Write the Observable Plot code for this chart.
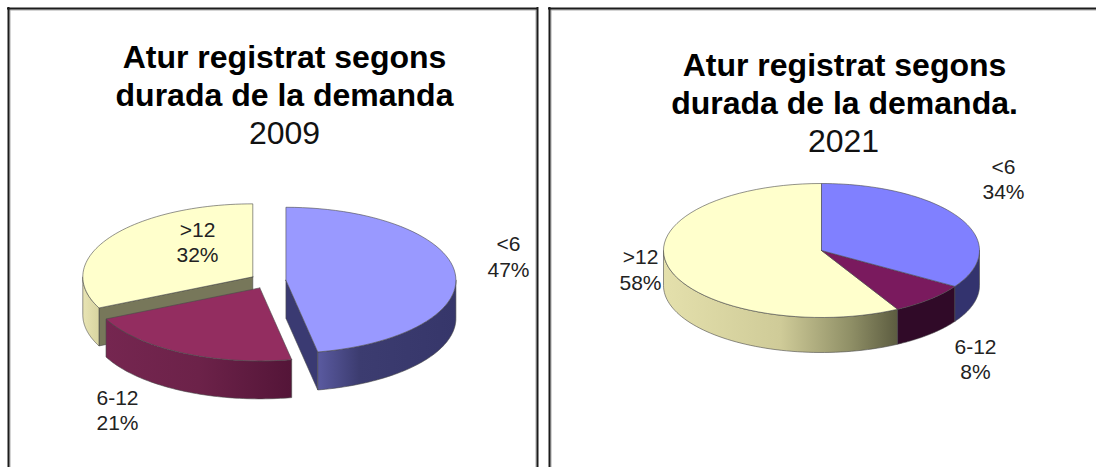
<!DOCTYPE html>
<html><head><meta charset="utf-8">
<script src="https://cdn.jsdelivr.net/npm/d3@7"></script>
<script src="https://cdn.jsdelivr.net/npm/@observablehq/plot@0.6"></script>
<style>html,body{margin:0;padding:0;background:#fff;overflow:hidden}svg{display:block}</style>
</head><body><div id="c"></div>
<script>
const categories = ["<6", "6-12", ">12"];
const shares2009 = [47, 21, 32];
const shares2021 = [34, 8, 58];
const titles = ["Atur registrat segons\ndurada de la demanda", "Atur registrat segons\ndurada de la demanda."];
const years = ["2009", "2021"];

const pies = [
  {shares: shares2009, cx: 267.5, cy: 280.5, rx: 170, ry: 73, depth: 38, explode: 18,
   top: ["#9999ff", "#932d60", "#ffffcc"], wall: ["url(#w0)", "url(#w1)", "url(#w2)"],
   cut: ["#3a3a72", null, "#77775a"]},
  {shares: shares2021, cx: 821, cy: 250, rx: 158, ry: 67, depth: 35, explode: 0,
   top: ["#8080ff", "#7a1a5e", "#ffffcc"], wall: ["#33336e", "#300a28", "url(#w3)"],
   cut: [null, null, null]}
];
const gradients = [
  ["w0", [[0, "#5a5aa0"], [.3, "#3c3c70"], [1, "#36366a"]]],
  ["w1", [[0, "#752650"], [.5, "#6c2249"], [1, "#541538"]]],
  ["w2", [[0, "#e8e4b4"], [1, "#d8d4a0"]]],
  ["w3", [[0, "#e4e0ac"], [.5, "#cfcb98"], [.8, "#8f8f66"], [1, "#5c5c40"]]]
];

const tau = 2 * Math.PI;
const polys = [];
let pid = 0;
function addPoly(pts, fill) {
  const id = pid++;
  polys.push({id, fill, pts: [...pts, pts[0]].map(([x, y]) => ({x, y}))});
}
for (const p of pies) {
  const total = d3.sum(p.shares);
  let acc = 0;
  const slices = p.shares.map((v, i) => {
    const a0 = acc / total * tau; acc += v; const a1 = acc / total * tau;
    const mid = (a0 + a1) / 2;
    return {i, a0, a1,
      cx: p.cx + p.explode * Math.sin(mid),
      cy: p.cy - p.explode * Math.cos(mid) * p.ry / p.rx};
  });
  const rim = (s, a, dy = 0) => [s.cx + p.rx * Math.sin(a), s.cy - p.ry * Math.cos(a) + dy];
  const arc = (s, a0, a1, dy = 0) => d3.range(61).map(k => rim(s, a0 + (a1 - a0) * k / 60, dy));
  // painter's order: the back slice first
  for (const s of [slices[2], slices[1], slices[0]]) {
    const lo = Math.max(s.a0, tau / 4), hi = Math.min(s.a1, 3 * tau / 4);
    if (p.cut[s.i]) {
      const ang = s.i === 0 ? s.a1 : s.a0;
      addPoly([[s.cx, s.cy], rim(s, ang), rim(s, ang, p.depth), [s.cx, s.cy + p.depth]], p.cut[s.i]);
    }
    if (hi > lo) addPoly([...arc(s, lo, hi), ...arc(s, hi, lo, p.depth)], p.wall[s.i]);
    addPoly([[s.cx, s.cy], ...arc(s, s.a0, s.a1)], p.top[s.i]);
  }
}

const defs = () => {
  const ns = "http://www.w3.org/2000/svg";
  const d = document.createElementNS(ns, "defs");
  for (const [id, stops] of gradients) {
    const g = document.createElementNS(ns, "linearGradient");
    g.setAttribute("id", id);
    for (const [o, c] of stops) {
      const s = document.createElementNS(ns, "stop");
      s.setAttribute("offset", o); s.setAttribute("stop-color", c);
      g.appendChild(s);
    }
    d.appendChild(g);
  }
  return d;
};

const font = "Liberation Sans";
const frames = [[8, 537], [549, 1110]];
const titleRows = [{x: 284, y: 74, t: titles[0]}, {x: 844, y: 82, t: titles[1]}];
const yearRows = [{x: 284, y: 133, t: years[0]}, {x: 843, y: 141, t: years[1]}];
const pct = (cat, v) => `${cat}\n${v}%`;
const labelRows = [
  {x: 508, y: 255.5, t: pct(categories[0], shares2009[0])},
  {x: 117, y: 409, t: pct(categories[1], shares2009[1])},
  {x: 197, y: 241, t: pct(categories[2], shares2009[2])},
  {x: 1003, y: 178, t: pct(categories[0], shares2021[0])},
  {x: 975, y: 358, t: pct(categories[1], shares2021[1])},
  {x: 640, y: 268.5, t: pct(categories[2], shares2021[2])}
];

const chart = Plot.plot({
  width: 1096, height: 467,
  margin: 0,
  x: {domain: [0, 1096], range: [0, 1096], axis: null},
  y: {domain: [0, 467], range: [0, 467], axis: null},
  style: {background: "#fff", fontFamily: font},
  marks: [
    defs,
    ...frames.flatMap(([l, r]) => [
      Plot.ruleX([l + 1.5, r - 1.5], {y1: 9, y2: 467, stroke: "#aaa", strokeWidth: 1}),
      Plot.ruleY([9.5], {x1: l + 1, x2: r - 1, stroke: "#aaa", strokeWidth: 1}),
      Plot.ruleX([l, r], {y1: 7, y2: 467, stroke: "#1c1c1c", strokeWidth: 2}),
      Plot.ruleY([8], {x1: l - 1, x2: r + 1, stroke: "#1c1c1c", strokeWidth: 2})
    ]),
    ...polys.map(o => Plot.line(o.pts, {x: "x", y: "y", fill: o.fill, stroke: "#4a4a4a", strokeWidth: 0.6, curve: "linear"})),
    Plot.text(titleRows, {x: "x", y: "y", text: "t", fontSize: 32, fontWeight: "bold", lineHeight: 1.19, fill: "#000", lineAnchor: "middle"}),
    Plot.text(yearRows, {x: "x", y: "y", text: "t", fontSize: 32, fill: "#111", lineAnchor: "middle"}),
    Plot.text(labelRows, {x: "x", y: "y", text: "t", fontSize: 21, lineHeight: 1.2, fill: "#222", lineAnchor: "middle"})
  ]
});
document.getElementById("c").appendChild(chart);
</script></body></html>
